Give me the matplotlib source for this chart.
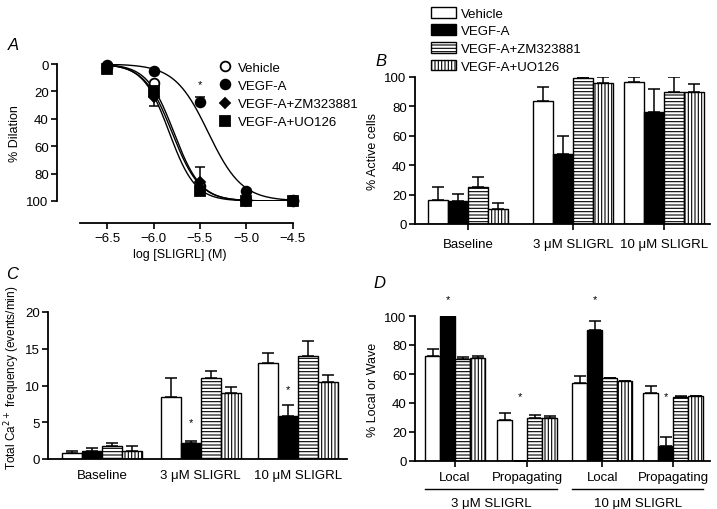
import numpy as np
import matplotlib
matplotlib.use("Agg")
import matplotlib.pyplot as plt
import matplotlib.transforms as mtransforms
from matplotlib.patches import Patch
from matplotlib.lines import Line2D

plt.rcParams['font.family'] = ['Liberation Sans', 'DejaVu Sans']
plt.rcParams['hatch.linewidth'] = 0.8
plt.rcParams['axes.linewidth'] = 1.3

series = ['Vehicle', 'VEGF-A', 'VEGF-A+ZM323881', 'VEGF-A+UO126']

# Panel A - concentration response
log_conc = [-6.5, -6.0, -5.5, -5.0, -4.5]
dil_vehicle = [2, 14, 89, 99, 100]
dil_vegf = [1, 5, 28, 93, 99]
dil_zm = [3, 24, 86, 100, 100]
dil_uo = [4, 20, 93, 100, 100]
err_vehicle = [0, 0, 0, 0, 0]
err_vegf = [0, 0, -4, 0, 0]
err_zm = [0, 7, -11, 0, 0]
err_uo = [0, 0, 0, 0, 0]
# fitted curve parameters (log EC50, Hill slope)
fit_ec50 = [-5.78, -5.41, -5.80, -5.83]
fit_hill = [3.0, 2.4, 2.9, 3.1]

# Panel B - % active cells
groups_bc = ['Baseline', '3 \u03bcM SLIGRL', '10 \u03bcM SLIGRL']
active_mean = {
    'Vehicle': [16.4, 84, 96.8],
    'VEGF-A': [15.5, 47.3, 76],
    'VEGF-A+ZM323881': [25, 99.3, 89.8],
    'VEGF-A+UO126': [10, 96, 89.8],
}
active_err = {
    'Vehicle': [9.1, 9, 3.2],
    'VEGF-A': [5.2, 12.5, 15.6],
    'VEGF-A+ZM323881': [6.8, 0.5, 10.2],
    'VEGF-A+UO126': [4.5, 4, 5.4],
}

# Panel C - total Ca2+ frequency
freq_mean = {
    'Vehicle': [0.77, 8.4, 13.05],
    'VEGF-A': [1.05, 2.2, 5.9],
    'VEGF-A+ZM323881': [1.77, 11.05, 13.95],
    'VEGF-A+UO126': [1.14, 9.0, 10.45],
}
freq_err = {
    'Vehicle': [0.37, 2.6, 1.4],
    'VEGF-A': [0.5, 0.25, 1.5],
    'VEGF-A+ZM323881': [0.43, 0.9, 2.15],
    'VEGF-A+UO126': [0.63, 0.77, 0.95],
}

# Panel D - local vs propagating
events_d = ['Local', 'Propagating', 'Local', 'Propagating']
conc_d = ['3 \u03bcM SLIGRL', '10 \u03bcM SLIGRL']
wave_mean = {
    'Vehicle': [72.4, 28, 53.6, 46.7],
    'VEGF-A': [100, 0, 90.3, 10.3],
    'VEGF-A+ZM323881': [70.6, 30, 57, 44.4],
    'VEGF-A+UO126': [71.3, 29.4, 55.2, 44.8],
}
wave_err = {
    'Vehicle': [5.1, 5, 5, 5.3],
    'VEGF-A': [0, 0, 6.2, 6.2],
    'VEGF-A+ZM323881': [1.4, 1.7, 0.5, 0.4],
    'VEGF-A+UO126': [1.1, 1.9, 0.3, 0.2],
}

faces = ['white', 'black', 'white', 'white']
hatches = [None, None, '-----', '|||||']

fig = plt.figure(figsize=(7.17, 5.10), dpi=100)
W, H = 717, 510


def add_ax(left, top, right, bottom):
    return fig.add_axes([left / W, 1 - bottom / H, (right - left) / W, (bottom - top) / H])


def style(ax):
    for s in ['top', 'right']:
        ax.spines[s].set_visible(False)
    ax.tick_params(direction='out', length=4, width=1.2, labelsize=9.5, pad=2)


def hill(x, ec50, h):
    return 100 / (1 + 10 ** ((ec50 - x) * h))


# ---------- A ----------
axA = add_ax(57, 65, 302, 202)
style(axA)
markers = [('o', 'white'), ('o', 'black'), ('D', 'black'), ('s', 'black')]
msizes = [7, 7, 5, 6.5]
xs = np.linspace(-6.5, -4.5, 300)
for vals, errs, (m, fc), ms, ec, hh in zip([dil_vehicle, dil_vegf, dil_zm, dil_uo],
                                            [err_vehicle, err_vegf, err_zm, err_uo],
                                            markers, msizes, fit_ec50, fit_hill):
    axA.plot(xs, hill(xs, ec, hh), color='black', lw=1.0)
    v = np.array(vals, float)
    e = np.array(errs, float)
    lo = np.where(e < 0, -e, 0)
    hi = np.where(e > 0, e, 0)
    axA.errorbar(log_conc, v, yerr=[lo, hi], fmt='none', ecolor='black', elinewidth=1.1,
                 capsize=3.5, capthick=1.1, clip_on=False)
    axA.plot(log_conc, v, m, ms=ms, mfc=fc, mec='black', mew=1.3, clip_on=False, zorder=4)
axA.text(-5.5, 15, '*', ha='center', va='center', fontsize=8)
axA.set_xlim(-7.04, -4.4)
axA.set_ylim(100, 0)
axA.set_yticks([0, 20, 40, 60, 80, 100])
axA.set_xticks([-6.5, -6.0, -5.5, -5.0, -4.5])
axA.set_xticklabels(['\u22126.5', '\u22126.0', '\u22125.5', '\u22125.0', '\u22124.5'])
axA.spines['bottom'].set_position(('outward', 16))
axA.spines['bottom'].set_bounds(-6.79, -4.5)
axA.set_ylabel('% Dilation', fontsize=9, labelpad=4)
axA.set_xlabel('log [SLIGRL] (M)', fontsize=9, labelpad=3)
legA = [Line2D([], [], ls='none', marker=m, ms=ms, mfc=fc, mec='black', mew=1.3)
        for (m, fc), ms in zip(markers, msizes)]
fig.legend(legA, series, loc='upper left', bbox_to_anchor=(212 / W, 1 - 56 / H), frameon=False,
           fontsize=9.5, handlelength=1.0, handletextpad=0.5, labelspacing=0.45, borderpad=0)


def bar_panel(ax, centers, means, errs, width, stars=None):
    offs = (np.arange(4) - 1.5) * width
    for i, name in enumerate(series):
        x = np.array(centers) + offs[i]
        ax.bar(x, means[name], width=width, color=faces[i], edgecolor='black', hatch=hatches[i],
               linewidth=1.0, zorder=2)
        e = np.array(errs[name])
        ax.errorbar(x, means[name], yerr=[np.zeros_like(e), e], fmt='none', ecolor='black',
                    elinewidth=1.1, capsize=width * 4, capthick=1.1, zorder=1)
    if stars:
        for gi, sy in stars:
            ax.text(centers[gi] + offs[1], sy, '*', ha='center', va='center', fontsize=8)


# ---------- B ----------
axB = add_ax(415, 78, 710, 225)
style(axB)
centers_b = [2.65, 7.9, 12.45]
bar_panel(axB, centers_b, active_mean, active_err, 1.0)
axB.set_xlim(0, 14.75)
axB.set_ylim(0, 100)
axB.set_yticks([0, 20, 40, 60, 80, 100])
axB.set_xticks(centers_b)
axB.set_xticklabels(groups_bc, fontsize=9.5)
axB.tick_params(axis='x', pad=6)
axB.set_ylabel('% Active cells', fontsize=9, labelpad=4)
legB = [Patch(facecolor=f, edgecolor='black', hatch=h, linewidth=1.0) for f, h in zip(faces, hatches)]
fig.legend(legB, series, loc='upper left', bbox_to_anchor=(424 / W, 1 - 1 / H), frameon=False,
           fontsize=9.5, handlelength=1.9, handleheight=0.9, handletextpad=0.4,
           labelspacing=0.35, borderpad=0)

# ---------- C ----------
axC = add_ax(48, 313, 347, 460)
style(axC)
centers_c = [2.7, 7.63, 12.5]
bar_panel(axC, centers_c, freq_mean, freq_err, 1.0, stars=[(1, 5.0), (2, 9.5)])
axC.set_xlim(0, 14.95)
axC.set_ylim(0, 20)
axC.set_yticks([0, 5, 10, 15, 20])
axC.set_xticks(centers_c)
axC.set_xticklabels(groups_bc, fontsize=9.5)
axC.tick_params(axis='x', length=0, pad=7)
axC.set_ylabel('Total Ca$^{2+}$ frequency (events/min)', fontsize=8.5)
axC.yaxis.set_label_coords(-0.088, 0.56)

# ---------- D ----------
axD = add_ax(415, 317, 710, 462)
style(axD)
centers_d = [2.67, 7.47, 12.5, 17.23]
bar_panel(axD, centers_d, wave_mean, wave_err, 1.0,
          stars=[(0, 112), (1, 45), (2, 112), (3, 45)])
axD.set_xlim(0, 19.67)
axD.set_ylim(0, 100)
axD.set_yticks([0, 20, 40, 60, 80, 100])
axD.set_xticks(centers_d)
axD.set_xticklabels(events_d, fontsize=9.5)
axD.tick_params(axis='x', pad=3)
axD.set_ylabel('% Local or Wave', fontsize=9, labelpad=4)
tr = mtransforms.blended_transform_factory(axD.transData, axD.transAxes)
for k, lab in enumerate(conc_d):
    a, b = centers_d[2 * k] - 2.0, centers_d[2 * k + 1] + 2.0
    axD.plot([a, b], [-0.193, -0.193], color='black', lw=1.0, transform=tr, clip_on=False)
    axD.text((a + b) / 2, -0.29, lab, transform=tr, ha='center', va='center', fontsize=9.5)

# panel letters
for lab, x, y in [('A', 8, 45), ('B', 375, 62), ('C', 6, 275), ('D', 373, 283)]:
    fig.text(x / W, 1 - y / H, lab, fontsize=12, style='italic', ha='left', va='center')

fig.savefig('out.png', dpi=100)
